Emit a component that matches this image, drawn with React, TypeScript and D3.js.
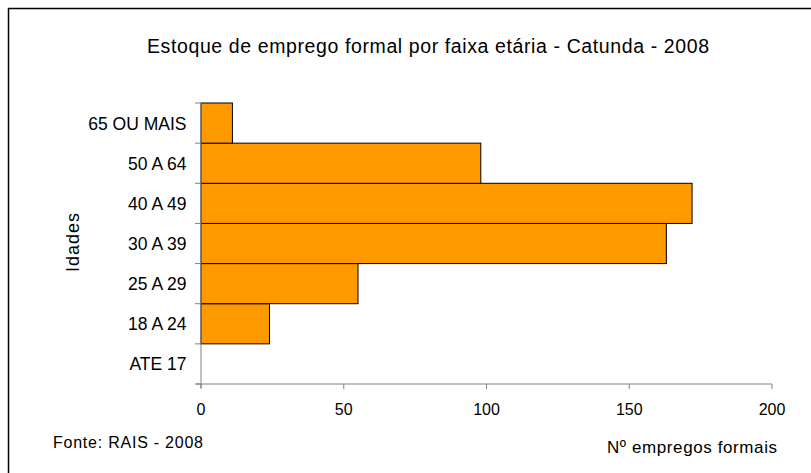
import React from "react";
import * as d3 from "d3";

const categories = ["ATE 17", "18 A 24", "25 A 29", "30 A 39", "40 A 49", "50 A 64", "65 OU MAIS"];
const values = [0, 24, 55, 163, 172, 98, 11];
const xTicks = [0, 50, 100, 150, 200];

const W = 811;
const H = 473;
const left = 201;
const right = 772;
const top = 103;
const bottom = 384;
const font = "Liberation Sans, Arial, sans-serif";

export default function App() {
  const x = d3.scaleLinear().domain([0, 200]).range([left, right]);
  const y = d3
    .scaleBand<string>()
    .domain([...categories].reverse())
    .range([top, bottom])
    .padding(0);

  return (
    <svg width={W} height={H} style={{ position: "absolute", left: 0, top: 0 }}>
      <rect x={0} y={0} width={W} height={H} fill="#fff" />
      <line x1={8.5} y1={8} x2={8.5} y2={H} stroke="#000" strokeWidth={1.5} />
      <line x1={8} y1={8.5} x2={W} y2={8.5} stroke="#000" strokeWidth={1.5} />
      <text
        x={428}
        y={53}
        textAnchor="middle"
        fontFamily={font}
        fontSize={19.5}
        textLength={562}
        lengthAdjust="spacing"
        fill="#000"
      >
        Estoque de emprego formal por faixa etária - Catunda - 2008
      </text>
      {categories.map((c, i) => (
        <rect
          key={c}
          x={x(0)}
          y={y(c)!}
          width={x(values[i]) - x(0)}
          height={y.bandwidth()}
          fill="#FF9900"
          stroke="#000"
          strokeWidth={1}
          opacity={values[i] === 0 ? 0 : 1}
        />
      ))}
      {/* y axis */}
      <line x1={left} y1={top} x2={left} y2={bottom + 4} stroke="#808080" strokeWidth={1} />
      {[...categories.map((c) => y(c)!), bottom].map((v, i) => (
        <line key={i} x1={left - 6} y1={v} x2={left} y2={v} stroke="#808080" />
      ))}
      {categories.map((c) => (
        <text
          key={c}
          x={186.5}
          y={y(c)! + y.bandwidth() / 2 + 6.5}
          textAnchor="end"
          fontFamily={font}
          fontSize={17.5}
          fill="#000"
        >
          {c}
        </text>
      ))}
      {/* x axis */}
      <line x1={left - 5} y1={bottom} x2={right} y2={bottom} stroke="#808080" />
      {xTicks.map((t) => (
        <g key={t}>
          <line x1={x(t)} y1={bottom} x2={x(t)} y2={bottom + 5} stroke="#808080" />
          <text
            x={x(t)}
            y={415}
            textAnchor="middle"
            fontFamily={font}
            fontSize={16}
            fill="#000"
          >
            {t}
          </text>
        </g>
      ))}
      <text
        transform={`translate(79,242.5) rotate(-90)`}
        textAnchor="middle"
        fontFamily={font}
        fontSize={18}
        textLength={59}
        lengthAdjust="spacing"
        fill="#000"
      >
        Idades
      </text>
      <text
        x={53}
        y={448}
        fontFamily={font}
        fontSize={16}
        textLength={150}
        lengthAdjust="spacing"
        fill="#000"
      >
        Fonte: RAIS - 2008
      </text>
      <text
        x={607}
        y={453}
        fontFamily={font}
        fontSize={17}
        textLength={170}
        lengthAdjust="spacing"
        fill="#000"
      >
        Nº empregos formais
      </text>
    </svg>
  );
}
